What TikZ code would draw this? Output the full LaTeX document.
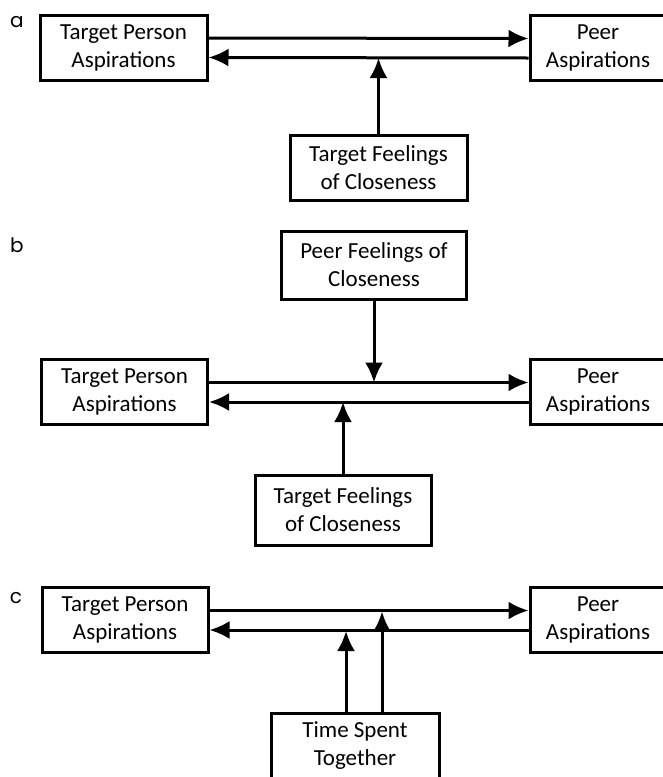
\documentclass[tikz,border=0pt]{standalone}
\usepackage{fontspec}
\setmainfont{Carlito}
\newfontfamily\panelfont{Poppins}
\usetikzlibrary{arrows.meta,positioning}
\tikzset{
    -{Latex[length=20pt,width=18pt]},
    box/.style ={rectangle, draw, align=center, minimum height=65pt, inner sep=3pt,
                 font=\fontsize{23}{28}\selectfont},
    tag/.style = {font=\panelfont\fontsize{20}{24}\selectfont},
    fwd/.style = {yshift=9.5pt},
    back/.style = {yshift=-10pt}
}
\begin{document}
\begin{tikzpicture}[x=1pt,y=-1pt,line width=3pt]
    \useasboundingbox (0,0) rectangle (663,777);
    % a
    \node[tag] (la) at (17,22) {a};
    \node[box, minimum width=167] (tp1) at (123.5,47.5) {Target Person\\Aspirations};
    \node[box, minimum width=136] (pa1) at (598,48) {Peer\\Aspirations};
    \node[box, minimum width=177] (tf1) at (378.5,167.5) {Target Feelings\\of Closeness};
    \coordinate (m1) at (378.5,58);

    \path ([fwd]tp1.east) edge ([fwd]pa1.west);
    \path ([back]pa1.west) edge ([back]tp1.east);
    \path (tf1) edge (m1);

    % b
    \node[tag] (lb) at (17,245) {b};
    \node[box, minimum width=185, minimum height=68] (pf2) at (374,265) {Peer Feelings of\\Closeness};
    \node[box, minimum width=166] (tp2) at (124.5,392) {Target Person\\Aspirations};
    \node[box, minimum width=136] (pa2) at (598,392) {Peer\\Aspirations};
    \node[box, minimum width=176, minimum height=70] (tf2) at (343,510) {Target Feelings\\of Closeness};
    \coordinate (m2) at (374,382.5);
    \coordinate (n2) at (343,402);

    \path ([fwd]tp2.east) edge ([fwd]pa2.west);
    \path ([back]pa2.west) edge ([back]tp2.east);
    \path (pf2) edge (m2);
    \path (tf2) edge (n2);

    % c
    \node[tag] (lc) at (16,598) {c};
    \node[box, minimum width=166] (tp3) at (125,620) {Target Person\\Aspirations};
    \node[box, minimum width=136] (pa3) at (598,620) {Peer\\Aspirations};
    \node[box, minimum width=168] (ts3) at (355,746) {Time Spent\\Together};
    \coordinate (c1) at (346,631);
    \coordinate (c2) at (382,611.5);

    \path ([fwd]tp3.east) edge ([fwd]pa3.west);
    \path ([back]pa3.west) edge ([back]tp3.east);
    \path (ts3.north -| c1) edge (c1);
    \path (ts3.north -| c2) edge (c2);
\end{tikzpicture}
\end{document}
